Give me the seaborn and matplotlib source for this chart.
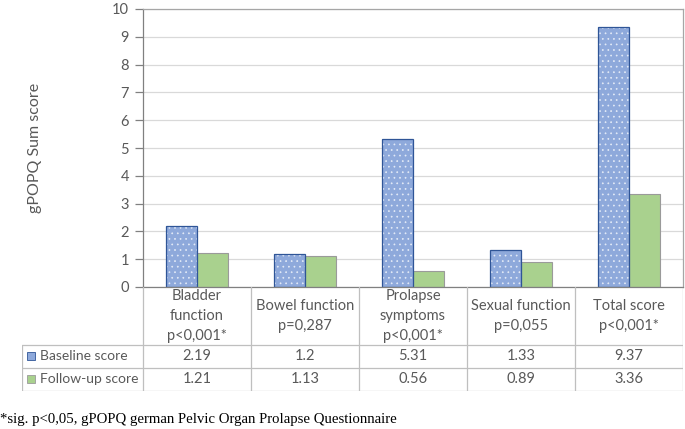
import numpy as np
import pandas as pd
import seaborn as sns
import matplotlib
import matplotlib.pyplot as plt
from matplotlib.patches import Rectangle

sns.set_theme(style="white")
plt.rcParams['font.family'] = ['Lato', 'DejaVu Sans']
plt.rcParams['hatch.linewidth'] = 0.5

# data
categories = ['Bladder function', 'Bowel function', 'Prolapse symptoms', 'Sexual function', 'Total score']
cat_labels = ['Bladder\nfunction\np<0,001*', 'Bowel function\np=0,287', 'Prolapse\nsymptoms\np<0,001*',
              'Sexual function\np=0,055', 'Total score\np<0,001*']
series = ['Baseline score', 'Follow-up score']
baseline = [2.19, 1.2, 5.31, 1.33, 9.37]
followup = [1.21, 1.13, 0.56, 0.89, 3.36]

df = pd.DataFrame({
    'category': categories * 2,
    'series': [series[0]] * 5 + [series[1]] * 5,
    'score': baseline + followup,
})

blue = '#8EA9DB'
blue_edge = '#2F5597'
dot_c = '#E4EBF7'
green = '#A9D18E'
green_edge = '#9A9A9A'
gray_txt = '#595959'
line_c = '#BFBFBF'

W, H = 685, 429
fig = plt.figure(figsize=(W / 100, H / 100), dpi=100)
ax = fig.add_axes([143 / W, 1 - 287 / H, 540 / W, 278 / H])

sns.barplot(data=df, x='category', y='score', hue='series', order=categories,
            palette=[blue, green], width=0.574, gap=0, saturation=1,
            legend=False, ax=ax)

n = len(categories)
for i, p in enumerate(ax.patches[:2 * n]):
    if i < n:
        # dotted fill, then outline on top
        p.set_hatch('...')
        p.set_edgecolor(dot_c)
        p.set_linewidth(0)
        ax.add_patch(Rectangle(p.get_xy(), p.get_width(), p.get_height(), fill=False,
                               edgecolor=blue_edge, linewidth=0.9, zorder=p.get_zorder() + 0.1))
    else:
        p.set_edgecolor(green_edge)
        p.set_linewidth(0.8)

ax.set_ylim(0, 10)
ax.set_xlim(-0.5, n - 0.5)
ax.set_yticks(range(0, 11))
ax.yaxis.grid(True, color='#D9D9D9', linewidth=0.9)
ax.set_axisbelow(True)
ax.set_xticks([])
ax.set_xlabel('')
ax.set_ylabel('')
ax.tick_params(axis='y', left=True, length=6, width=0.9, color='#808080',
               labelsize=10.5, labelcolor=gray_txt, pad=4)
for s in ['left', 'bottom']:
    ax.spines[s].set_color('#808080')
    ax.spines[s].set_linewidth(0.9)
for s in ['top', 'right']:
    ax.spines[s].set_color('#A6A6A6')
    ax.spines[s].set_linewidth(0.9)

fig.text(35 / W, 1 - 148 / H, 'gPOPQ Sum score', rotation=90, ha='center', va='center',
         fontsize=11.5, color=gray_txt)

# data table below the chart
tx = fig.add_axes([22 / W, 1 - 391 / H, 661 / W, 104 / H])
tx.set_xlim(22, 683)
tx.set_ylim(391, 287)
tx.axis('off')
cols = [143 + 108 * i for i in range(n + 1)]
rows = [287, 345, 368, 391]
kw = dict(color=line_c, linewidth=0.9)
for x in cols:
    tx.plot([x, x], [287, 391], **kw)
tx.plot([22, 22], [345, 391], **kw)
for y in rows[1:]:
    tx.plot([22, 683], [y, y], **kw)

for i, lab in enumerate(cat_labels):
    tx.text((cols[i] + cols[i + 1]) / 2, 316, lab, ha='center', va='center', fontsize=10.5,
            color=gray_txt, linespacing=1.55)

row_vals = [baseline, followup]
for r, (name, vals) in enumerate(zip(series, row_vals)):
    yc = (rows[r + 1] + rows[r + 2]) / 2
    tx.add_patch(Rectangle((27, yc - 4), 8, 8, facecolor=[blue, green][r],
                           edgecolor=[blue_edge, green_edge][r], linewidth=0.6))
    tx.text(40, yc, name, ha='left', va='center', fontsize=10, color=gray_txt)
    for i, v in enumerate(vals):
        tx.text((cols[i] + cols[i + 1]) / 2, yc, f'{v:g}', ha='center', va='center',
                fontsize=10.5, color=gray_txt)

fig.text(0, 1 - 420 / H, '*sig. p<0,05, gPOPQ german Pelvic Organ Prolapse Questionnaire',
         ha='left', va='center', fontsize=10.6, family=['Liberation Serif', 'DejaVu Serif'],
         color='black')

plt.savefig('out.png', dpi=100)
